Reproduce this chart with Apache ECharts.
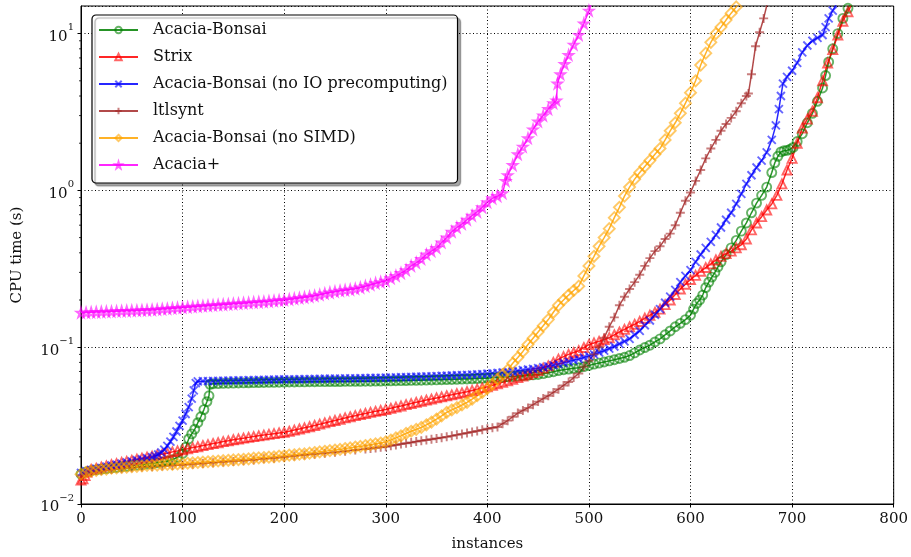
<!DOCTYPE html>
<html><head><meta charset="utf-8">
<script src="https://cdn.jsdelivr.net/npm/echarts/dist/echarts.min.js"></script>
<style>html,body{margin:0;padding:0;background:#fff}#c{width:911px;height:557px}</style>
</head><body><div id="c"></div>
<script>
const seriesNames = ['Acacia-Bonsai','Strix','Acacia-Bonsai (no IO precomputing)','ltlsynt','Acacia-Bonsai (no SIMD)','Acacia+'];
const xTickValues = [0,100,200,300,400,500,600,700,800];
const yMajorTicks = [0.01,0.1,1,10];
const yMinorTicks = [0.02,0.03,0.04,0.05,0.06,0.07,0.08,0.09,0.2,0.3,0.4,0.5,0.6,0.7,0.8,0.9,2,3,4,5,6,7,8,9];

const bonsai = [[0,0.0155],[5,0.0160],[10,0.0163],[15,0.0165],[20,0.0167],[25,0.0168],[30,0.0170],[35,0.0171],[40,0.0173],[45,0.0174],[50,0.0176],[55,0.0177],[60,0.0178],[65,0.0180],[70,0.0181],[75,0.0183],[80,0.0185],[85,0.0188],[90,0.0192],[95,0.0198],[100,0.021],[103,0.023],[106,0.026],[109,0.028],[112,0.030],[115,0.033],[118,0.036],[121,0.040],[124,0.045],[126,0.049],[127,0.058],[130,0.0585],[135,0.0586],[140,0.0588],[145,0.0589],[150,0.0590],[155,0.0591],[160,0.0592],[165,0.0593],[170,0.0594],[175,0.0595],[180,0.0596],[185,0.0597],[190,0.0597],[195,0.0598],[200,0.0599],[205,0.0600],[210,0.0600],[215,0.0601],[220,0.0601],[225,0.0602],[230,0.0602],[235,0.0603],[240,0.0603],[245,0.0604],[250,0.0604],[255,0.0604],[260,0.0605],[265,0.0605],[270,0.0606],[275,0.0606],[280,0.0607],[285,0.0607],[290,0.0608],[295,0.0608],[300,0.0609],[305,0.0610],[310,0.0611],[315,0.0612],[320,0.0613],[325,0.0614],[330,0.0615],[335,0.0616],[340,0.0617],[345,0.0618],[350,0.0619],[355,0.0620],[360,0.0622],[365,0.0623],[370,0.0624],[375,0.0626],[380,0.0627],[385,0.0629],[390,0.0631],[395,0.0633],[400,0.0635],[405,0.0638],[410,0.0641],[415,0.0644],[420,0.0647],[425,0.0650],[430,0.0654],[435,0.0658],[440,0.0662],[445,0.0666],[450,0.0670],[455,0.0678],[460,0.0688],[465,0.0698],[470,0.0710],[475,0.0718],[480,0.0725],[485,0.0733],[490,0.0740],[495,0.0752],[500,0.0765],[505,0.0780],[510,0.0792],[515,0.0805],[520,0.0818],[525,0.0832],[530,0.0848],[535,0.0862],[540,0.0885],[545,0.0920],[550,0.0960],[555,0.0995],[560,0.103],[565,0.108],[570,0.113],[575,0.120],[580,0.127],[585,0.135],[590,0.142],[595,0.150],[600,0.160],[603,0.175],[606,0.190],[609,0.200],[612,0.215],[615,0.240],[618,0.260],[621,0.280],[624,0.300],[627,0.325],[630,0.350],[635,0.390],[640,0.430],[645,0.480],[650,0.550],[655,0.620],[660,0.720],[665,0.830],[670,0.930],[675,1.050],[680,1.300],[683,1.500],[686,1.650],[689,1.760],[692,1.790],[695,1.800],[698,1.830],[701,1.880],[705,2.050],[710,2.300],[715,2.700],[720,3.100],[725,3.700],[730,4.500],[733,5.400],[736,6.600],[740,8.000],[745,10.00],[750,12.50],[755,14.50],[758,16.0]];

const strix = [[0,0.0142],[2,0.0145],[4,0.0152],[6,0.0160],[10,0.0166],[15,0.0169],[20,0.0172],[25,0.0175],[30,0.0178],[35,0.0181],[40,0.0184],[45,0.0187],[50,0.0190],[55,0.0193],[60,0.0196],[65,0.0199],[70,0.0202],[75,0.0205],[80,0.0208],[85,0.0211],[90,0.0215],[95,0.0218],[100,0.0222],[105,0.0225],[110,0.0229],[115,0.0232],[120,0.0236],[125,0.0239],[130,0.0243],[135,0.0246],[140,0.0250],[145,0.0253],[150,0.0257],[155,0.0260],[160,0.0263],[165,0.0266],[170,0.0269],[175,0.0272],[180,0.0275],[185,0.0278],[190,0.0281],[195,0.0284],[200,0.0287],[205,0.0291],[210,0.0296],[215,0.0301],[220,0.0306],[225,0.0311],[230,0.0317],[235,0.0323],[240,0.0329],[245,0.0335],[250,0.0341],[255,0.0347],[260,0.0354],[265,0.0360],[270,0.0366],[275,0.0372],[280,0.0378],[285,0.0384],[290,0.0390],[295,0.0395],[300,0.0401],[305,0.0408],[310,0.0415],[315,0.0422],[320,0.0430],[325,0.0437],[330,0.0445],[335,0.0452],[340,0.0460],[345,0.0467],[350,0.0475],[355,0.0482],[360,0.0490],[365,0.0497],[370,0.0505],[375,0.0512],[380,0.0520],[385,0.0530],[390,0.0540],[395,0.0550],[400,0.0560],[405,0.0572],[410,0.0585],[415,0.0597],[420,0.0610],[425,0.0625],[430,0.0640],[435,0.0655],[440,0.0670],[445,0.0690],[450,0.0710],[455,0.0735],[460,0.0760],[465,0.0800],[470,0.0840],[475,0.0870],[480,0.0900],[485,0.0925],[490,0.0950],[495,0.0995],[500,0.1040],[505,0.1065],[510,0.1090],[515,0.1120],[520,0.1150],[525,0.1200],[530,0.1250],[535,0.1300],[540,0.1350],[545,0.1400],[550,0.1460],[555,0.1530],[560,0.1600],[565,0.1670],[570,0.1750],[575,0.1870],[580,0.2000],[585,0.2170],[590,0.2350],[595,0.2520],[600,0.2700],[605,0.2870],[610,0.3050],[615,0.3220],[620,0.3400],[625,0.3600],[630,0.3800],[635,0.3950],[640,0.4100],[645,0.4300],[650,0.4500],[655,0.4900],[660,0.5600],[665,0.6200],[670,0.6800],[675,0.7500],[680,0.8200],[685,0.9300],[690,1.1000],[695,1.3500],[700,1.6000],[705,2.0000],[710,2.5000],[715,2.8500],[720,3.2000],[725,3.9000],[730,5.0000],[735,6.5000],[740,7.9000],[745,9.8000],[750,12.000],[755,13.800],[760,16.00]];

const bonsaiNoIO = [[0,0.0158],[5,0.0162],[10,0.0165],[15,0.0168],[20,0.0170],[25,0.0173],[30,0.0176],[35,0.0178],[40,0.0181],[45,0.0184],[50,0.0187],[55,0.0190],[60,0.0193],[65,0.0196],[70,0.0199],[73,0.0202],[76,0.0207],[79,0.0213],[82,0.0222],[85,0.0235],[88,0.0250],[91,0.0268],[94,0.0290],[97,0.0315],[100,0.0340],[103,0.0375],[106,0.0415],[109,0.0470],[111,0.0530],[113,0.0590],[115,0.0605],[120,0.0607],[125,0.0608],[130,0.0609],[135,0.0610],[140,0.0611],[145,0.0612],[150,0.0613],[155,0.0614],[160,0.0615],[165,0.0616],[170,0.0617],[175,0.0618],[180,0.0619],[185,0.0620],[190,0.0621],[195,0.0622],[200,0.0623],[205,0.0623],[210,0.0624],[215,0.0625],[220,0.0626],[225,0.0626],[230,0.0627],[235,0.0628],[240,0.0629],[245,0.0629],[250,0.0630],[255,0.0631],[260,0.0632],[265,0.0632],[270,0.0633],[275,0.0634],[280,0.0635],[285,0.0636],[290,0.0637],[295,0.0638],[300,0.0639],[305,0.0640],[310,0.0642],[315,0.0643],[320,0.0645],[325,0.0646],[330,0.0648],[335,0.0649],[340,0.0651],[345,0.0652],[350,0.0654],[355,0.0656],[360,0.0658],[365,0.0660],[370,0.0662],[375,0.0664],[380,0.0666],[385,0.0668],[390,0.0671],[395,0.0674],[400,0.0677],[405,0.0681],[410,0.0685],[415,0.0690],[420,0.0695],[425,0.0700],[430,0.0707],[435,0.0714],[440,0.0721],[445,0.0728],[450,0.0735],[455,0.0745],[460,0.0755],[465,0.0768],[470,0.0780],[475,0.0795],[480,0.0810],[485,0.0825],[490,0.0840],[495,0.0860],[500,0.0880],[505,0.0900],[510,0.0925],[515,0.0950],[520,0.0980],[525,0.1010],[530,0.1050],[535,0.1090],[540,0.1130],[545,0.1200],[550,0.1270],[555,0.1380],[560,0.1480],[565,0.1610],[570,0.1750],[575,0.1920],[580,0.2100],[585,0.2320],[590,0.2600],[595,0.2850],[600,0.3100],[605,0.3500],[610,0.3900],[615,0.4300],[620,0.4700],[625,0.5200],[630,0.5800],[635,0.6500],[640,0.7200],[645,0.8200],[650,0.9500],[655,1.1000],[660,1.2500],[665,1.4000],[670,1.5500],[675,1.7500],[680,2.1000],[684,2.6000],[687,3.3000],[689,4.0000],[691,4.8000],[695,5.3000],[700,5.8000],[705,6.5000],[710,7.6000],[715,8.4000],[720,9.0000],[725,9.4000],[730,9.8000],[733,11.000],[736,12.500],[740,14.000],[745,16.00]];

const ltlsynt = [[0,0.0152],[10,0.0159],[20,0.0163],[30,0.0166],[40,0.0168],[50,0.0170],[60,0.0172],[70,0.0173],[80,0.0175],[90,0.0176],[100,0.0177],[110,0.0179],[120,0.0181],[130,0.0183],[140,0.0185],[150,0.0187],[160,0.0189],[170,0.0191],[180,0.0194],[190,0.0196],[200,0.0199],[210,0.0202],[220,0.0205],[230,0.0208],[240,0.0211],[250,0.0214],[260,0.0217],[270,0.0221],[280,0.0224],[285,0.0226],[290,0.0228],[295,0.0230],[300,0.0232],[305,0.0235],[310,0.0238],[315,0.0241],[320,0.0244],[325,0.0247],[330,0.0250],[335,0.0253],[340,0.0256],[345,0.0259],[350,0.0262],[355,0.0265],[360,0.0268],[365,0.0272],[370,0.0276],[375,0.0280],[380,0.0284],[385,0.0288],[390,0.0292],[395,0.0297],[400,0.0302],[405,0.0306],[410,0.0310],[415,0.0325],[420,0.0340],[425,0.0360],[430,0.0380],[435,0.0395],[440,0.0410],[445,0.0430],[450,0.0450],[455,0.0470],[460,0.0490],[465,0.0515],[470,0.0540],[475,0.0570],[480,0.0600],[485,0.0640],[490,0.0680],[495,0.0750],[500,0.0820],[505,0.0900],[510,0.1000],[515,0.1150],[520,0.1350],[525,0.1550],[530,0.1850],[535,0.2100],[540,0.2350],[545,0.2600],[550,0.2900],[555,0.3300],[560,0.3700],[565,0.4100],[570,0.4400],[575,0.4900],[580,0.5300],[585,0.6000],[590,0.7200],[595,0.8600],[600,0.9700],[605,1.1500],[610,1.3500],[615,1.6000],[620,1.8500],[625,2.1000],[630,2.4000],[635,2.6500],[640,2.9000],[645,3.2000],[650,3.6000],[655,4.0000],[657,4.1500],[660,5.5000],[664,8.3000],[668,10.200],[672,12.500],[676,16.00]];

const bonsaiNoSIMD = [[0,0.0155],[5,0.0159],[10,0.0162],[15,0.0164],[20,0.0166],[25,0.0167],[30,0.0169],[35,0.0170],[40,0.0171],[45,0.0172],[50,0.0173],[55,0.0174],[60,0.0175],[65,0.0176],[70,0.0177],[75,0.0177],[80,0.0178],[85,0.0179],[90,0.0179],[95,0.0180],[100,0.0181],[105,0.0182],[110,0.0183],[115,0.0184],[120,0.0185],[125,0.0186],[130,0.0187],[135,0.0188],[140,0.0189],[145,0.0190],[150,0.0191],[155,0.0192],[160,0.0193],[165,0.0194],[170,0.0196],[175,0.0197],[180,0.0198],[185,0.0199],[190,0.0200],[195,0.0202],[200,0.0203],[205,0.0205],[210,0.0206],[215,0.0208],[220,0.0209],[225,0.0211],[230,0.0213],[235,0.0215],[240,0.0217],[245,0.0219],[250,0.0221],[255,0.0223],[260,0.0226],[265,0.0228],[270,0.0231],[275,0.0233],[280,0.0236],[285,0.0239],[290,0.0242],[295,0.0245],[300,0.0249],[305,0.0256],[310,0.0264],[315,0.0272],[320,0.0282],[325,0.0291],[330,0.0299],[335,0.0308],[340,0.0320],[345,0.0333],[350,0.0348],[355,0.0365],[360,0.0384],[365,0.0398],[370,0.0412],[375,0.0428],[380,0.0445],[385,0.0466],[390,0.0490],[395,0.0515],[400,0.0545],[405,0.0580],[410,0.0625],[415,0.0670],[420,0.0715],[425,0.0790],[430,0.0860],[435,0.0940],[440,0.1040],[445,0.1140],[450,0.1250],[455,0.1370],[460,0.1500],[465,0.1670],[470,0.1850],[475,0.2000],[480,0.2150],[485,0.2300],[490,0.2450],[495,0.2850],[500,0.3300],[505,0.3800],[510,0.4400],[515,0.5000],[520,0.5700],[525,0.6700],[530,0.7800],[535,0.9200],[540,1.0500],[545,1.1800],[550,1.3000],[555,1.4200],[560,1.5500],[565,1.7000],[570,1.8500],[575,2.1000],[580,2.4000],[585,2.7000],[590,3.1000],[595,3.6000],[600,4.2000],[605,5.0000],[610,6.3000],[615,7.5000],[620,8.8000],[625,10.000],[630,11.000],[635,12.200],[640,13.500],[645,14.800],[648,16.0]];

const acaciaPlus = [[0,0.1660],[5,0.1665],[10,0.1670],[15,0.1675],[20,0.1680],[25,0.1685],[30,0.1690],[35,0.1695],[40,0.1700],[45,0.1705],[50,0.1710],[55,0.1715],[60,0.1720],[65,0.1725],[70,0.1730],[75,0.1740],[80,0.1750],[85,0.1760],[90,0.1770],[95,0.1780],[100,0.1790],[105,0.1800],[110,0.1810],[115,0.1820],[120,0.1830],[125,0.1840],[130,0.1850],[135,0.1860],[140,0.1870],[145,0.1880],[150,0.1890],[155,0.1900],[160,0.1910],[165,0.1920],[170,0.1930],[175,0.1940],[180,0.1950],[185,0.1960],[190,0.1975],[195,0.1990],[200,0.2000],[205,0.2020],[210,0.2040],[215,0.2060],[220,0.2080],[225,0.2100],[230,0.2130],[235,0.2160],[240,0.2200],[245,0.2230],[250,0.2260],[255,0.2290],[260,0.2310],[265,0.2330],[270,0.2360],[275,0.2400],[280,0.2450],[285,0.2500],[290,0.2560],[295,0.2600],[300,0.2650],[305,0.2750],[310,0.2850],[315,0.2970],[320,0.3100],[325,0.3300],[330,0.3450],[335,0.3650],[340,0.3900],[345,0.4100],[350,0.4300],[355,0.4650],[360,0.5000],[365,0.5450],[370,0.5800],[375,0.6100],[380,0.6500],[385,0.6900],[390,0.7300],[395,0.7800],[400,0.8400],[405,0.8900],[410,0.9200],[415,0.9600],[418,1.1500],[420,1.2500],[425,1.4500],[430,1.7000],[435,1.9000],[440,2.1500],[445,2.4500],[450,2.7500],[455,3.0000],[460,3.3000],[465,3.6000],[468,3.7500],[469,4.8000],[472,5.5000],[476,6.4000],[480,7.3000],[485,8.5000],[490,9.8000],[495,11.600],[500,14.000],[503,16.00]];

const FONT = 'DejaVu Serif';
const TXT = '#111';
const STAR = 'path://M50,0L61,35L98,35L68,57L79,91L50,70L21,91L32,57L2,35L39,35Z';
const CROSS = 'path://M0,0L10,10M10,0L0,10';
const PLUS = 'path://M5,0L5,10M0,5L10,5';

function mk(name, data, color, symbol, size) {
  return {
    name: name, type: 'line', data: data, symbol: symbol, symbolSize: size,
    showSymbol: true, clip: true, animation: false,
    lineStyle: { color: color, width: 1.5, opacity: 0.85 },
    itemStyle: { color: 'rgba(255,255,255,0)', borderColor: color, borderWidth: 1.9, opacity: 0.6 },
    emphasis: { disabled: true }
  };
}

function yFmt(v) {
  const l = Math.log10(v), e = Math.round(l);
  if (Math.abs(l - e) > 1e-6) return '';
  return '{b|10}{s|' + (e < 0 ? '\u2212' : '') + Math.abs(e) + '}';
}

const chart = echarts.init(document.getElementById('c'), null, { renderer: 'canvas' });
chart.setOption({
  animation: false,
  backgroundColor: '#fff',
  grid: { left: 81, right: 16, top: 6, bottom: 52, show: true, borderColor: '#000', borderWidth: 1, backgroundColor: 'transparent' },
  legend: {
    data: seriesNames, orient: 'vertical', left: 92, top: 15,
    itemWidth: 39, itemHeight: 8, itemGap: 9,
    padding: [6, 10, 9, 6],
    backgroundColor: '#fff', borderColor: '#000', borderWidth: 1.2, borderRadius: 4,
    shadowColor: 'rgba(0,0,0,0.35)', shadowOffsetX: 3, shadowOffsetY: 3, shadowBlur: 1,
    selectedMode: false,
    textStyle: { fontFamily: FONT, fontSize: 16, color: TXT, lineHeight: 18, padding: [0, 0, 0, 10] }
  },
  xAxis: {
    type: 'value', min: 0, max: 800, interval: 100,
    name: 'instances', nameLocation: 'middle', nameGap: 33,
    nameTextStyle: { fontFamily: FONT, fontSize: 15, color: TXT },
    axisLine: { show: true, lineStyle: { color: '#000', width: 1 } },
    axisTick: { show: true, length: 3.5, lineStyle: { color: '#000' } },
    axisLabel: { fontFamily: FONT, fontSize: 15, color: TXT, margin: 8,
      formatter: function (v) { return xTickValues.indexOf(v) >= 0 ? String(v) : ''; } },
    splitLine: { show: true, lineStyle: { color: '#000', width: 1, type: [1, 2.5] } }
  },
  yAxis: {
    type: 'log', logBase: 10, min: 0.01, max: 15,
    name: 'CPU time (s)', nameLocation: 'middle', nameGap: 56,
    nameTextStyle: { fontFamily: FONT, fontSize: 15, color: TXT },
    axisLine: { show: true, lineStyle: { color: '#000', width: 1 } },
    axisTick: { show: true, length: 3.5, lineStyle: { color: '#000' } },
    axisLabel: { margin: 7, formatter: yFmt, showMaxLabel: false,
      rich: {
        b: { fontFamily: FONT, fontSize: 15, color: TXT, lineHeight: 22, verticalAlign: 'bottom' },
        s: { fontFamily: FONT, fontSize: 10, color: TXT, lineHeight: 12, verticalAlign: 'top' }
      } },
    splitLine: { show: true, lineStyle: { color: '#000', width: 1, type: [1, 2.5] } }
  },
  series: [
    mk(seriesNames[0], bonsai, '#008000', 'circle', 9),
    mk(seriesNames[1], strix, '#ff0000', 'triangle', 9),
    mk(seriesNames[2], bonsaiNoIO, '#0000ff', CROSS, 8),
    mk(seriesNames[3], ltlsynt, '#a52a2a', PLUS, 9),
    mk(seriesNames[4], bonsaiNoSIMD, '#ffa500', 'diamond', 11),
    mk(seriesNames[5], acaciaPlus, '#ff00ff', STAR, 9),
    {
      type: 'custom', silent: true, clip: false, z: 5, animation: false,
      data: yMinorTicks.map(function (v) { return [0, v]; }),
      renderItem: function (params, api) {
        const p = api.coord([api.value(0), api.value(1)]);
        return { type: 'line', shape: { x1: p[0] - 2, y1: p[1], x2: p[0], y2: p[1] },
          style: { stroke: '#000', lineWidth: 0.8 } };
      }
    }
  ]
});
</script>
</body></html>
